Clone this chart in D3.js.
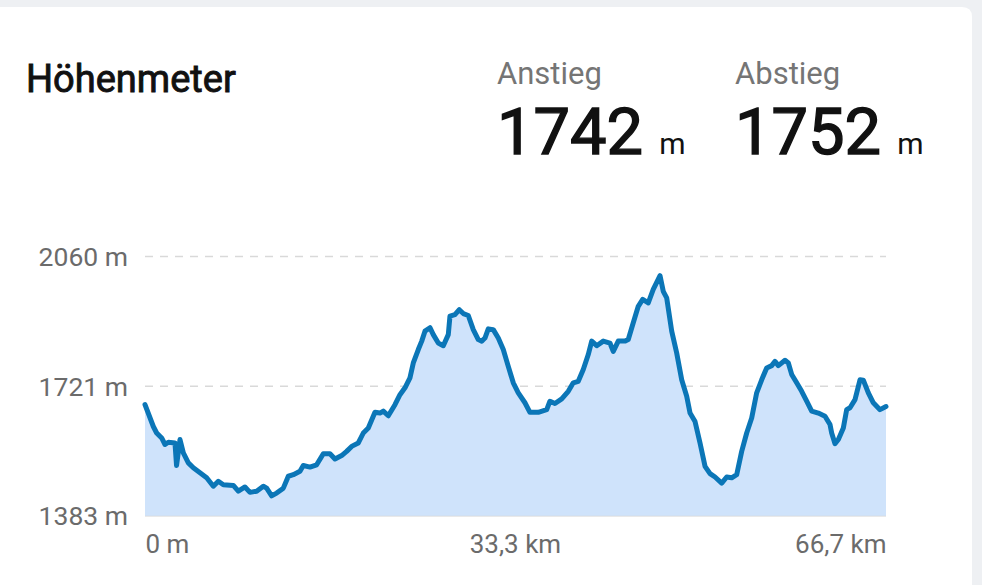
<!DOCTYPE html>
<html>
<head>
<meta charset="utf-8">
<script src="https://cdn.jsdelivr.net/npm/d3@7/dist/d3.min.js"></script>
<style>
  html, body { margin: 0; padding: 0; background: #eef0f3; overflow: hidden; }
  svg { display: block; font-family: Roboto, "Noto Sans", sans-serif; }
  .med { font-family: Roboto, sans-serif; font-weight: 400; stroke: #111; stroke-width: 0.9px; }
</style>
</head>
<body>
<svg id="chart" width="982" height="585"></svg>
<script>
// ---- data ----
const title = "Höhenmeter";
const ascentLabel = "Anstieg";
const descentLabel = "Abstieg";
const ascentValue = 1742;
const descentValue = 1752;
const unit = "m";

const yTicks = [1383, 1721, 2060];
const yTickLabels = ["1383 m", "1721 m", "2060 m"];
const xTicks = [0, 33.3, 66.7];
const xTickLabels = ["0 m", "33,3 km", "66,7 km"];

// distance (km)
const distanceKm = [
  0, 0.75, 1.05, 1.50, 1.80, 2.10, 2.70, 2.84, 3.15, 3.45,
  3.90, 4.35, 4.95, 5.55, 6.15, 6.60, 7.05, 7.95, 8.40, 9.00,
  9.45, 10.05, 10.65, 10.95, 11.40, 11.85, 12.45, 12.90, 13.35, 13.95,
  14.25, 14.85, 15.45, 16.05, 16.65, 17.10, 17.70, 18.15, 18.60, 19.20,
  19.65, 20.10, 20.70, 21.15, 21.45, 21.90, 22.50, 22.95, 23.40, 23.85,
  24.15, 24.60, 24.91, 25.20, 25.65, 25.95, 26.40, 26.85, 27.30, 27.45,
  27.90, 28.29, 28.65, 29.10, 29.55, 30.00, 30.31, 30.60, 30.90, 31.35,
  31.80, 32.25, 32.70, 33.15, 33.60, 34.20, 34.65, 35.40, 36.16, 36.45,
  36.90, 37.51, 38.10, 38.55, 39.00, 39.45, 39.90, 40.21, 40.66, 41.25,
  41.85, 42.15, 42.60, 43.20, 43.50, 43.95, 44.40, 44.80, 45.30, 45.75,
  46.36, 46.65, 46.96, 47.41, 47.86, 48.31, 48.76, 49.06, 49.51, 49.96,
  50.41, 50.86, 51.31, 51.91, 52.36, 52.81, 53.26, 53.71, 54.16, 54.61,
  55.06, 55.51, 55.96, 56.41, 56.71, 57.01, 57.61, 57.91, 58.21, 58.66,
  59.11, 59.56, 60.01, 60.61, 61.21, 61.66, 61.81, 62.11, 62.41, 62.86,
  63.16, 63.46, 63.91, 64.36, 64.66, 65.11, 65.56, 66.16, 66.70
];
// elevation (m)
const elevationM = [
  1673, 1616, 1599, 1586, 1569, 1575, 1573, 1514, 1582, 1547,
  1521, 1508, 1495, 1482, 1460, 1473, 1464, 1462, 1447, 1458,
  1444, 1447, 1460, 1455, 1435, 1442, 1455, 1486, 1490, 1499,
  1514, 1510, 1516, 1545, 1545, 1531, 1540, 1551, 1564, 1573,
  1599, 1612, 1653, 1651, 1656, 1644, 1673, 1699, 1717, 1743,
  1782, 1817, 1839, 1865, 1874, 1856, 1834, 1827, 1856, 1904,
  1908, 1921, 1911, 1906, 1869, 1843, 1839, 1847, 1871, 1869,
  1847, 1817, 1773, 1730, 1704, 1678, 1653, 1653, 1660, 1682,
  1676, 1688, 1708, 1730, 1734, 1765, 1804, 1839, 1827, 1839,
  1834, 1812, 1839, 1839, 1843, 1887, 1930, 1948, 1939, 1974,
  2010, 1969, 1952, 1865, 1808, 1738, 1695, 1651, 1629, 1573,
  1512, 1493, 1484, 1468, 1484, 1482, 1490, 1551, 1599, 1638,
  1704, 1738, 1769, 1775, 1786, 1775, 1789, 1782, 1752, 1730,
  1708, 1682, 1656, 1651, 1643, 1621, 1599, 1571, 1582, 1612,
  1660, 1665, 1686, 1738, 1737, 1704, 1678, 1660, 1668
];

const points = distanceKm.map((d, i) => ({ d, e: elevationM[i] }));

// ---- layout ----
const svg = d3.select("#chart");
const W = 982, H = 585;
const plot = { left: 145, right: 886, top: 256.5, bottom: 515.7 };

// card
svg.append("path")
  .attr("d", (() => {
    const x0 = -20, y0 = 7, x1 = 972, y1 = H + 20, r = 10;
    return `M${x0},${y0} H${x1 - r} Q${x1},${y0} ${x1},${y0 + r} V${y1} H${x0} Z`;
  })())
  .attr("fill", "#ffffff");

// header
svg.append("text").attr("class", "med").attr("x", 26).attr("y", 91.5)
  .attr("font-size", 38).attr("fill", "#111")
  .text(title);

function stat(x, label, value) {
  svg.append("text").attr("x", x).attr("y", 83.5)
    .attr("font-size", 31).attr("fill", "#757575").text(label);
  const t = svg.append("text").attr("x", x).attr("y", 153.5).attr("fill", "#111");
  t.append("tspan").attr("class", "med").attr("font-size", 65).style("stroke-width", "1.4px").text(value);
  t.append("tspan").attr("font-size", 30).attr("dx", 16).text(unit);
}
stat(497, ascentLabel, ascentValue);
stat(735, descentLabel, descentValue);

// scales
const x = d3.scaleLinear().domain([0, 66.7]).range([plot.left, plot.right]);
const y = d3.scaleLinear().domain([1383, 2060]).range([plot.bottom, plot.top]);

// grid
const g = svg.append("g");
g.selectAll("line.grid").data(yTicks).join("line")
  .attr("x1", plot.left).attr("x2", plot.right)
  .attr("y1", d => y(d)).attr("y2", d => y(d))
  .attr("stroke", d => d === 1383 ? "#d4d4d4" : "#d9d9d9")
  .attr("stroke-width", 1.5)
  .attr("stroke-dasharray", d => d === 1383 ? null : "8,7");

// area + line
const area = d3.area().x(p => x(p.d)).y0(y(1383)).y1(p => y(p.e));
const line = d3.line().x(p => x(p.d)).y(p => y(p.e));
svg.append("path").datum(points).attr("d", area).attr("fill", "#cfe3fb");
svg.append("path").datum(points).attr("d", line)
  .attr("fill", "none").attr("stroke", "#0b76b7")
  .attr("stroke-width", 5).attr("stroke-linejoin", "round").attr("stroke-linecap", "round");

// y axis labels
const yAxis = d3.axisLeft(y).tickValues(yTicks)
  .tickFormat((d, i) => yTickLabels[i]).tickSize(0).tickPadding(0);
const ya = svg.append("g").attr("transform", `translate(128,0)`).call(yAxis);
ya.select(".domain").remove();
ya.selectAll("text").attr("font-size", 26.5).attr("fill", "#6b6b6b")
  .attr("font-family", "Roboto, sans-serif").attr("dy", "0.35em");

// x axis labels
const xAxis = d3.axisBottom(x).tickValues(xTicks)
  .tickFormat((d, i) => xTickLabels[i]).tickSize(0).tickPadding(0);
const xa = svg.append("g").attr("transform", `translate(0,${plot.bottom})`).call(xAxis);
xa.select(".domain").remove();
xa.selectAll("text").attr("font-size", 26).attr("fill", "#6b6b6b")
  .attr("font-family", "Roboto, sans-serif")
  .attr("dy", null).attr("y", 37.5)
  .attr("text-anchor", (d, i) => i === 0 ? "start" : (i === xTicks.length - 1 ? "end" : "middle"));
</script>
</body>
</html>
